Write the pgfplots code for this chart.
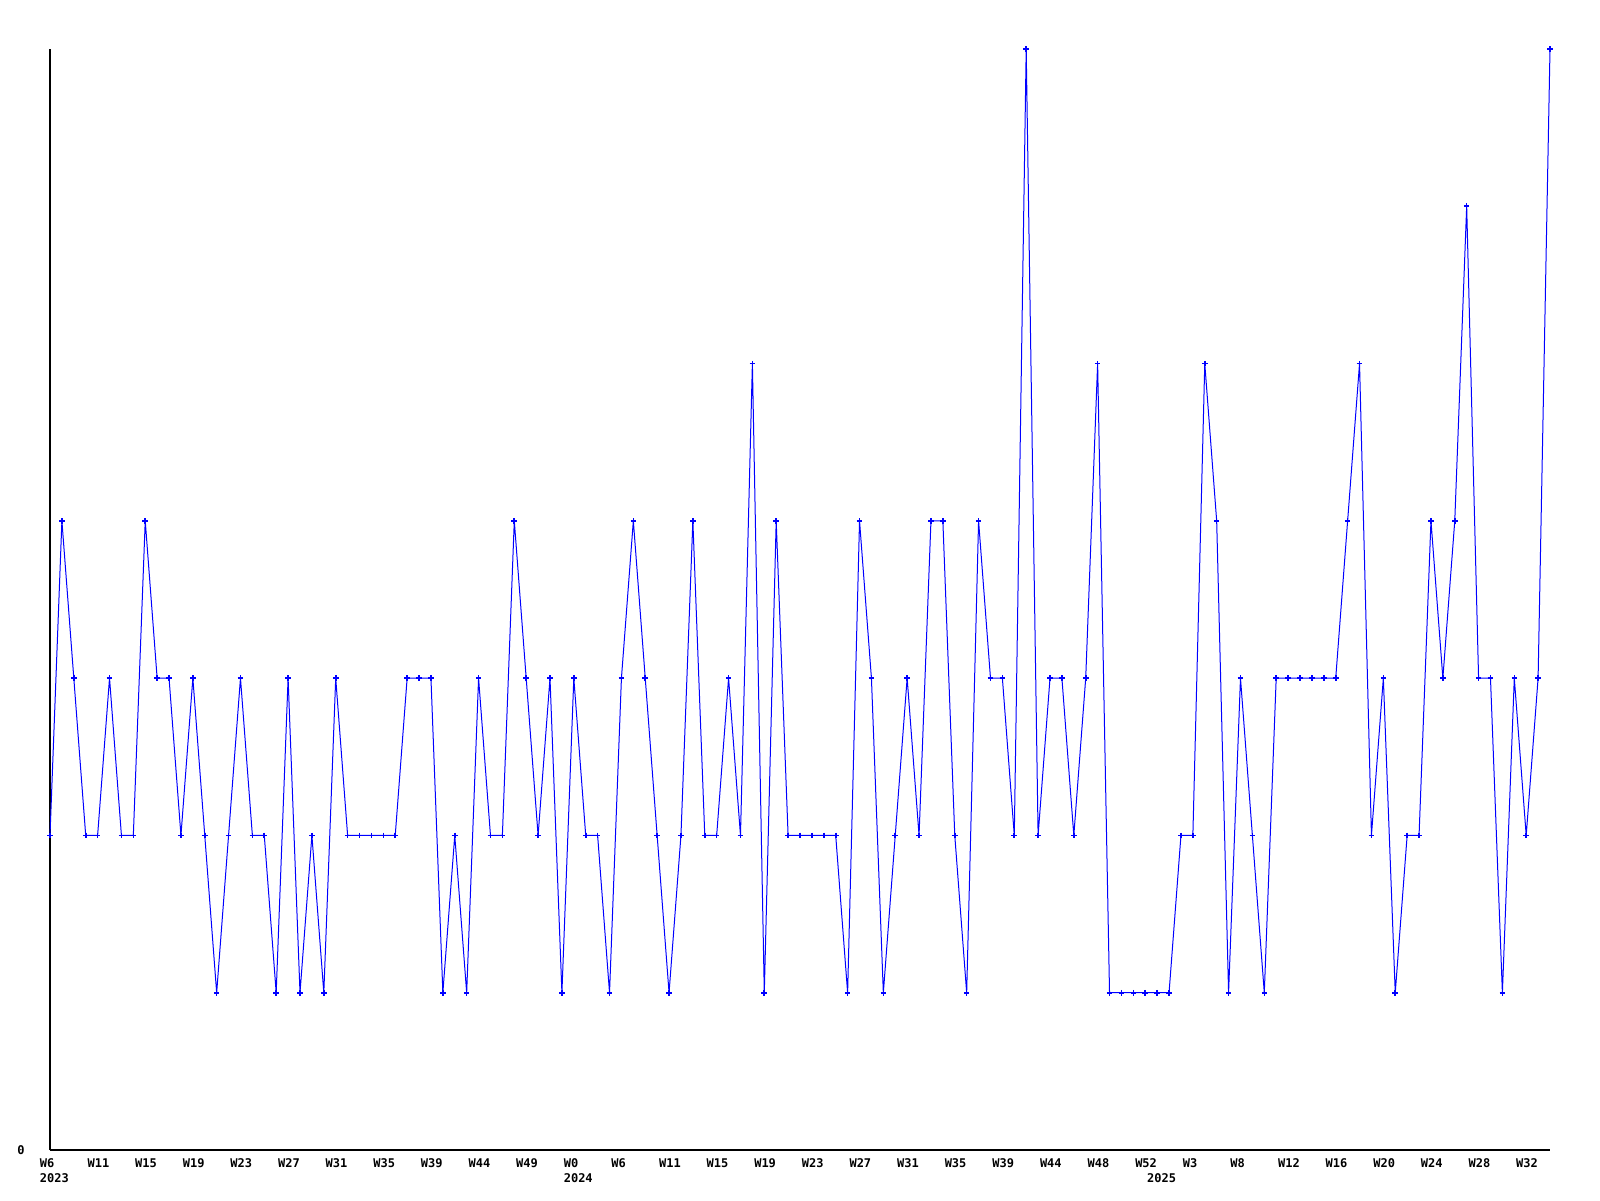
\documentclass[border=0pt]{standalone}
\usepackage{pgfplots}
\pgfplotsset{compat=1.18}
\usepackage{fontspec}
\newfontfamily\chartfont{DejaVu Sans Mono}
\begin{document}
\begin{tikzpicture}
\begin{axis}[
  at={(0,0)}, anchor=south west,
  scale only axis, width=750pt, height=550.5pt,
  xmin=0, xmax=126, ymin=0, ymax=7,
  axis lines*=left,
  axis line style={black, line width=0.6pt},
  major tick length=0pt,
  ytick={0},
  /pgf/number format/assume math mode=true,
  xtick={0,4,...,124},
  xticklabels={W6,W11,W15,W19,W23,W27,W31,W35,W39,W44,W49,W0,W6,W11,W15,W19,W23,W27,W31,W35,W39,W44,W48,W52,W3,W8,W12,W16,W20,W24,W28,W32},
  tick label style={font=\chartfont\bfseries\fontsize{6}{7}\selectfont},
  xticklabel style={anchor=north west, inner sep=0pt, xshift=-5.2pt, yshift=-4pt},
  yticklabel style={anchor=east, inner sep=0pt, xshift=-12.5pt},
  clip=false,
]
\addplot[blue, line width=0.5pt, mark=+, mark size=1.4pt, mark options={line width=0.8pt}] table {
x y
0 2
1 4
2 3
3 2
4 2
5 3
6 2
7 2
8 4
9 3
10 3
11 2
12 3
13 2
14 1
15 2
16 3
17 2
18 2
19 1
20 3
21 1
22 2
23 1
24 3
25 2
26 2
27 2
28 2
29 2
30 3
31 3
32 3
33 1
34 2
35 1
36 3
37 2
38 2
39 4
40 3
41 2
42 3
43 1
44 3
45 2
46 2
47 1
48 3
49 4
50 3
51 2
52 1
53 2
54 4
55 2
56 2
57 3
58 2
59 5
60 1
61 4
62 2
63 2
64 2
65 2
66 2
67 1
68 4
69 3
70 1
71 2
72 3
73 2
74 4
75 4
76 2
77 1
78 4
79 3
80 3
81 2
82 7
83 2
84 3
85 3
86 2
87 3
88 5
89 1
90 1
91 1
92 1
93 1
94 1
95 2
96 2
97 5
98 4
99 1
100 3
101 2
102 1
103 3
104 3
105 3
106 3
107 3
108 3
109 4
110 5
111 2
112 3
113 1
114 2
115 2
116 4
117 3
118 4
119 6
120 3
121 3
122 1
123 3
124 2
125 3
126 7
};
\node[anchor=north west, inner sep=0pt, xshift=-5.2pt, yshift=-11.5pt, font=\chartfont\bfseries\fontsize{6}{7}\selectfont] at (axis cs:0,0) {2023};
\node[anchor=north west, inner sep=0pt, xshift=-5.2pt, yshift=-11.5pt, font=\chartfont\bfseries\fontsize{6}{7}\selectfont] at (axis cs:44,0) {2024};
\node[anchor=north west, inner sep=0pt, xshift=-5.2pt, yshift=-11.5pt, font=\chartfont\bfseries\fontsize{6}{7}\selectfont] at (axis cs:93,0) {2025};
\end{axis}
\pgfresetboundingbox
\useasboundingbox (-25pt,-25pt) rectangle (775pt,575pt);
\end{tikzpicture}
\end{document}
